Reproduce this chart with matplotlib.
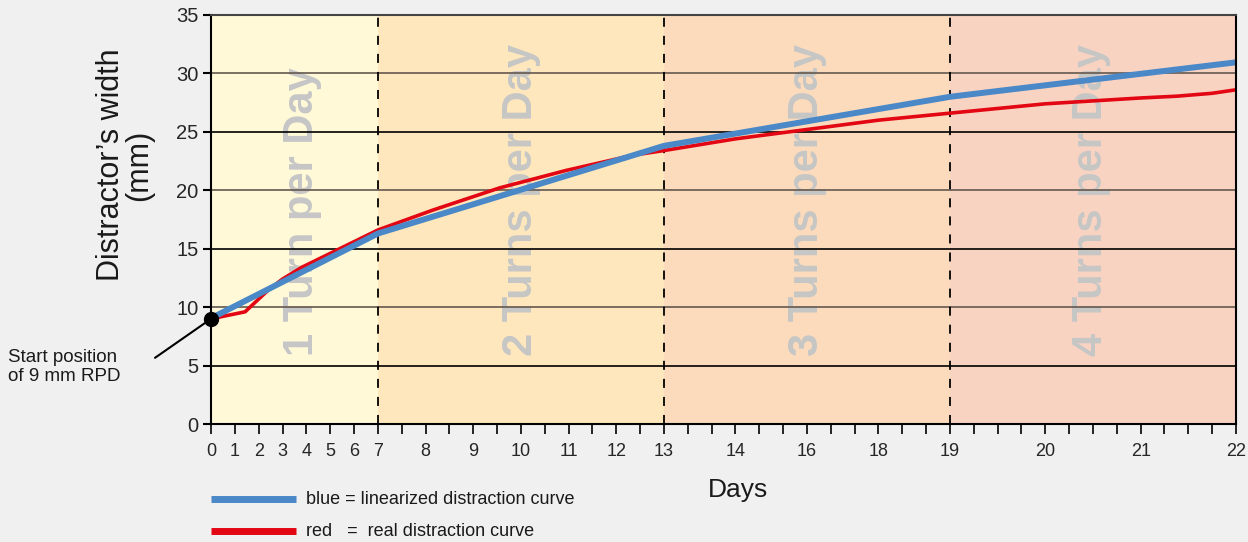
import matplotlib
matplotlib.use("Agg")
import matplotlib.pyplot as plt
from matplotlib.lines import Line2D

plt.rcParams["font.family"] = ["Liberation Sans", "DejaVu Sans"]

# x axis is an index of equally spaced ticks; day labels sit on some of them
tick_index = list(range(44))
label_index = [0, 1, 2, 3, 4, 5, 6, 7, 9, 11, 13, 15, 17, 19, 22, 25, 28, 31, 35, 39, 43]
label_days = ["0", "1", "2", "3", "4", "5", "6", "7", "8", "9", "10", "11", "12",
              "13", "14", "16", "18", "19", "20", "21", "22"]

# phases (start, end index) and their labels
phase_start = [0, 7, 19, 31]
phase_end = [7, 19, 31, 43]
phase_text = ["1 Turn per Day", "2 Turns per Day", "3 Turns per Day", "4 Turns per Day"]
phase_text_x = [3.8, 13.0, 25.0, 36.9]
phase_color = ["#FFF9D8", "#FEE7BC", "#FCDBBC", "#F9D3C2"]

# linearized curve
blue_x = [0, 7, 19, 31, 43]
blue_y = [9.05, 16.3, 23.8, 28.0, 30.95]

# real curve
red_x = [0, 1.43, 2.4, 3, 3.8, 4.5, 5.1, 6, 7, 9.3, 12.1, 14.9, 17.7, 19, 22, 25, 28,
         31, 35, 39, 40.5, 42, 43]
red_y = [9.0, 9.6, 11.46, 12.4, 13.4, 14.1, 14.7, 15.6, 16.6, 18.3, 20.2, 21.7, 23.0,
         23.4, 24.4, 25.2, 26.0, 26.6, 27.4, 27.9, 28.05, 28.3, 28.6]

BLUE = "#4A88C7"
RED = "#E30613"

fig = plt.figure(figsize=(12.48, 5.42), dpi=100, facecolor="#F0F0F0")
ax = fig.add_axes([211 / 1248, 1 - 424 / 542, 1025 / 1248, 409 / 542])

for s, e, c in zip(phase_start, phase_end, phase_color):
    ax.axvspan(s, e, color=c, lw=0, zorder=0)

for tx, t in zip(phase_text_x, phase_text):
    ax.text(tx, 5.8, t, rotation=90, ha="center", va="bottom", fontsize=30,
            fontweight="bold", color="#C6C6C6", zorder=1)

for yv in range(5, 35, 5):
    ax.axhline(yv, color="#65584F" if yv % 10 == 0 else "black", lw=1.2, zorder=2)

for xv in phase_start[1:]:
    ax.axvline(xv, color="black", lw=1.3, ls=(0, (5, 5)), zorder=3)

ax.plot(red_x, red_y, color=RED, lw=2.6, zorder=4, solid_capstyle="butt")
ax.plot(blue_x, blue_y, color=BLUE, lw=4.3, zorder=5, solid_capstyle="butt")
ax.plot([0], [9], "o", color="black", ms=10, zorder=6, clip_on=False)

ax.annotate("", xy=(0, 9), xytext=(-56, -39), textcoords="offset pixels",
            arrowprops=dict(arrowstyle="-", lw=1.5, color="black",
                            shrinkA=0, shrinkB=0),
            annotation_clip=False)

ax.set_xlim(0, 43)
ax.set_ylim(0, 35)
ax.set_yticks(range(0, 36, 5))
ax.set_xticks(tick_index, minor=True)
ax.set_xticks(label_index)
ax.set_xticklabels(label_days)
ax.tick_params(axis="y", direction="out", length=6, width=1.5, labelsize=14.5,
               labelcolor="#262626", pad=3)
ax.tick_params(axis="x", which="both", direction="out", length=7, width=1.2,
               labelsize=13, labelcolor="#262626", pad=7)
ax.tick_params(axis="x", which="minor", labelbottom=False)
for sp in ax.spines.values():
    sp.set_linewidth(1.5)
    sp.set_color("black")
    sp.set_zorder(7)
ax.spines["top"].set_color("#444444")

fig.text(125 / 1248, 1 - 165 / 542, "Distractor\u2019s width\n(mm)", rotation=90,
         ha="center", va="center", fontsize=22, linespacing=0.95, color="#1a1a1a")
fig.text(738 / 1248, 1 - 490 / 542, "Days", ha="center", va="center", fontsize=19,
         color="#1a1a1a")
fig.text(8 / 1248, 1 - 367 / 542, "Start position\nof 9 mm RPD", ha="left",
         va="center", fontsize=13.5, linespacing=1.1, color="#1a1a1a")

# legend drawn by hand below the axes
for yy, c, t in [(499, BLUE, "blue = linearized distraction curve"),
                 (531, RED, "red   =  real distraction curve")]:
    fy = 1 - yy / 542
    fig.add_artist(Line2D([211 / 1248, 296 / 1248], [fy, fy], color=c, lw=5,
                          solid_capstyle="butt"))
    fig.text(306 / 1248, fy, t, ha="left", va="center", fontsize=13,
             color="#1a1a1a")

fig.savefig("out.png", dpi=100, facecolor=fig.get_facecolor())
